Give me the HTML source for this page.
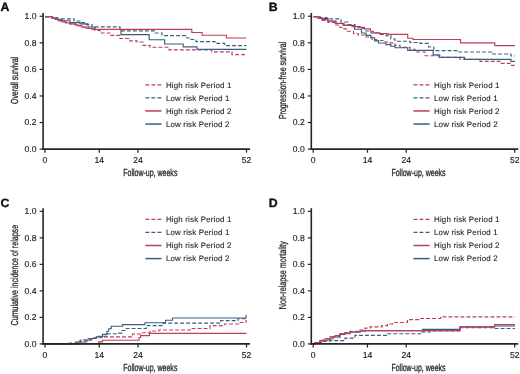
<!DOCTYPE html>
<html><head><meta charset="utf-8"><title>Figure</title>
<style>
html,body{margin:0;padding:0;background:#fff;width:520px;height:374px;overflow:hidden;}
svg{display:block;will-change:transform;filter:blur(0.35px);text-rendering:geometricPrecision;font-family:"Liberation Sans",sans-serif;}
</style></head><body>
<svg width="520" height="374" viewBox="0 0 520 374" font-family="Liberation Sans, sans-serif">
<rect width="520" height="374" fill="#fff"/>
<path d="M45.00 16.70 H52.50 V17.80 H58.00 V18.80 H74.00 V21.00 H80.00 V22.60 H86.00 V24.50 H92.00 V26.90 H120.00 V30.80 H155.00 V33.00 H162.00 V35.60 H187.00 V38.00 H191.00 V39.50 H196.00 V41.60 H215.00 V43.40 H224.70 V45.60 H246.50" fill="none" stroke="#3a5e82" stroke-width="1.15" stroke-dasharray="3.9 2.1"/>
<path d="M45.00 16.70 H52.00 V18.00 H56.00 V19.50 H60.00 V21.00 H65.00 V22.50 H70.00 V24.00 H76.00 V25.50 H82.00 V27.00 H88.00 V28.50 H95.00 V30.50 H100.00 V33.00 H110.00 V35.40 H120.00 V38.50 H130.00 V40.80 H137.00 V42.00 H143.00 V45.40 H150.00 V47.20 H169.00 V49.80 H211.70 V51.80 H232.00 V54.60 H246.50" fill="none" stroke="#bf3d5a" stroke-width="1.15" stroke-dasharray="3.9 2.1"/>
<path d="M45.00 16.70 H52.00 V17.80 H57.00 V19.50 H62.00 V20.70 H70.00 V22.60 H80.00 V23.80 H88.00 V27.00 H95.00 V29.50 H121.00 V34.60 H149.20 V39.70 H164.60 V44.00 H183.20 V46.80 H197.00 V49.40 H246.50" fill="none" stroke="#3a5e82" stroke-width="1.15"/>
<path d="M45.00 16.70 H52.00 V18.00 H55.00 V19.50 H58.00 V20.70 H62.00 V21.80 H66.00 V23.00 H70.00 V23.80 H75.00 V24.90 H78.00 V26.00 H82.00 V27.20 H86.00 V28.20 H92.00 V29.30 H191.80 V32.50 H202.20 V35.20 H226.40 V38.00 H246.50" fill="none" stroke="#bf3d5a" stroke-width="1.15"/>
<path d="M313.50 16.70 H320.00 V17.60 H327.00 V18.90 H341.00 V22.00 H348.00 V24.50 H355.00 V26.50 H360.00 V28.50 H366.00 V31.00 H371.00 V33.00 H380.00 V34.40 H386.00 V35.60 H390.80 V39.00 H395.00 V41.20 H410.00 V42.50 H420.00 V43.30 H428.50 V47.00 H433.80 V50.60 H458.00 V52.00 H493.00 V54.00 H511.00 V56.00 H515.00" fill="none" stroke="#3a5e82" stroke-width="1.15" stroke-dasharray="3.9 2.1"/>
<path d="M313.50 16.70 H318.00 V18.50 H322.00 V20.50 H328.00 V22.50 H335.00 V25.00 H340.00 V27.50 H343.00 V28.90 H347.40 V31.20 H353.50 V33.50 H358.00 V35.00 H365.00 V37.00 H372.00 V39.50 H376.60 V40.50 H385.00 V42.00 H389.00 V42.80 H395.00 V45.40 H400.00 V47.40 H410.00 V49.20 H415.00 V52.00 H425.00 V55.70 H440.00 V57.30 H460.00 V59.30 H480.00 V61.40 H500.00 V63.40 H510.00 V65.40 H515.00" fill="none" stroke="#bf3d5a" stroke-width="1.15" stroke-dasharray="3.9 2.1"/>
<path d="M313.50 16.70 H320.00 V18.50 H328.00 V21.00 H336.00 V23.50 H344.00 V25.50 H354.60 V29.20 H361.50 V33.00 H366.00 V35.40 H370.80 V37.70 H374.60 V40.80 H378.50 V43.00 H386.00 V44.60 H390.80 V46.20 H395.00 V47.70 H407.70 V50.30 H433.20 V54.90 H439.20 V57.30 H464.50 V59.30 H511.00 V61.40 H515.00" fill="none" stroke="#3a5e82" stroke-width="1.15"/>
<path d="M313.50 16.70 H318.00 V18.00 H322.00 V19.50 H327.40 V21.20 H335.00 V23.20 H342.80 V25.10 H352.00 V26.60 H358.00 V27.40 H364.30 V28.90 H370.50 V31.20 H373.50 V32.80 H379.70 V33.50 H388.00 V34.30 H407.70 V38.20 H413.00 V39.50 H460.50 V42.80 H494.80 V45.60 H515.00" fill="none" stroke="#bf3d5a" stroke-width="1.15"/>
<path d="M45.00 343.90 H98.75 V341.90 H102.50 V340.25 H139.00 V337.50 H140.60 V335.60 H149.40 V333.30 H246.50" fill="none" stroke="#bf3d5a" stroke-width="1.15"/>
<path d="M45.00 343.90 H76.00 V341.25 H80.60 V339.75 H86.25 V338.50 H92.50 V337.75 H101.25 V336.90 H132.50 V334.00 H140.60 V332.75 H150.00 V331.00 H158.75 V330.00 H191.25 V328.50 H210.00 V325.60 H224.40 V324.00 H238.75 V322.50 H246.00 V320.60 H246.50" fill="none" stroke="#bf3d5a" stroke-width="1.15" stroke-dasharray="3.9 2.1"/>
<path d="M45.00 343.90 H69.40 V343.10 H80.00 V341.00 H90.00 V338.50 H96.25 V336.25 H107.50 V333.75 H118.75 V333.10 H122.00 V330.50 H125.00 V328.50 H146.25 V325.60 H163.00 V323.10 H220.60 V320.60 H238.00 V318.75 H246.50" fill="none" stroke="#3a5e82" stroke-width="1.15" stroke-dasharray="3.9 2.1"/>
<path d="M45.00 343.90 H77.50 V342.00 H86.00 V340.00 H92.00 V338.50 H96.25 V336.90 H102.50 V334.40 H106.90 V331.25 H108.75 V328.75 H111.25 V326.25 H122.50 V324.60 H145.00 V322.75 H165.60 V320.25 H172.50 V318.00 H246.00 V315.60 H246.50" fill="none" stroke="#3a5e82" stroke-width="1.15"/>
<path d="M313.50 343.90 H315.00 V342.50 H320.00 V341.25 H330.00 V340.60 H345.00 V338.10 H355.00 V335.40 H387.50 V333.75 H421.25 V331.90 H430.00 V331.00 H460.00 V327.75 H494.60 V328.50 H515.00" fill="none" stroke="#3a5e82" stroke-width="1.15" stroke-dasharray="3.9 2.1"/>
<path d="M313.50 343.90 H315.00 V342.50 H322.00 V340.00 H330.00 V337.00 H340.00 V333.75 H345.00 V332.50 H350.00 V331.25 H360.00 V330.00 H365.00 V328.10 H370.00 V326.90 H381.90 V325.60 H387.50 V324.00 H392.50 V322.50 H407.50 V319.60 H418.75 V318.50 H440.60 V316.90 H515.00" fill="none" stroke="#bf3d5a" stroke-width="1.15" stroke-dasharray="3.9 2.1"/>
<path d="M313.50 343.90 H315.00 V342.50 H320.00 V341.00 H327.00 V339.00 H333.00 V337.00 H340.00 V334.50 H345.00 V333.00 H350.00 V332.00 H360.00 V331.00 H365.00 V330.60 H422.50 V329.40 H460.00 V326.90 H494.60 V326.00 H515.00" fill="none" stroke="#3a5e82" stroke-width="1.15"/>
<path d="M313.50 343.90 H315.00 V342.50 H320.00 V340.60 H325.00 V338.75 H330.00 V336.90 H335.00 V335.60 H340.00 V333.75 H350.00 V332.25 H360.00 V331.25 H365.00 V330.60 H460.00 V326.90 H494.60 V324.60 H515.00" fill="none" stroke="#bf3d5a" stroke-width="1.15"/>
<text x="0.45" y="10.80" font-size="12" font-weight="bold" fill="#111" stroke="#111" stroke-width="0.35" textLength="8.9" lengthAdjust="spacingAndGlyphs">A</text>
<line x1="43.10" y1="13.00" x2="43.10" y2="149.90" stroke="#262626" stroke-width="1.60"/>
<line x1="42.30" y1="149.10" x2="250.00" y2="149.10" stroke="#262626" stroke-width="1.60"/>
<line x1="39.60" y1="16.25" x2="43.10" y2="16.25" stroke="#262626" stroke-width="1.2"/>
<text x="36.50" y="19.15" font-size="8.60" text-anchor="end" fill="#1e1e1e" stroke="#1e1e1e" stroke-width="0.15">1.0</text>
<line x1="39.60" y1="42.82" x2="43.10" y2="42.82" stroke="#262626" stroke-width="1.2"/>
<text x="36.50" y="45.72" font-size="8.60" text-anchor="end" fill="#1e1e1e" stroke="#1e1e1e" stroke-width="0.15">0.8</text>
<line x1="39.60" y1="69.39" x2="43.10" y2="69.39" stroke="#262626" stroke-width="1.2"/>
<text x="36.50" y="72.29" font-size="8.60" text-anchor="end" fill="#1e1e1e" stroke="#1e1e1e" stroke-width="0.15">0.6</text>
<line x1="39.60" y1="95.96" x2="43.10" y2="95.96" stroke="#262626" stroke-width="1.2"/>
<text x="36.50" y="98.86" font-size="8.60" text-anchor="end" fill="#1e1e1e" stroke="#1e1e1e" stroke-width="0.15">0.4</text>
<line x1="39.60" y1="122.53" x2="43.10" y2="122.53" stroke="#262626" stroke-width="1.2"/>
<text x="36.50" y="125.43" font-size="8.60" text-anchor="end" fill="#1e1e1e" stroke="#1e1e1e" stroke-width="0.15">0.2</text>
<line x1="39.60" y1="149.10" x2="43.10" y2="149.10" stroke="#262626" stroke-width="1.2"/>
<text x="36.50" y="152.00" font-size="8.60" text-anchor="end" fill="#1e1e1e" stroke="#1e1e1e" stroke-width="0.15">0.0</text>
<line x1="45.00" y1="149.10" x2="45.00" y2="152.70" stroke="#262626" stroke-width="1.25"/>
<text x="45.00" y="163.40" font-size="8.60" text-anchor="middle" fill="#1e1e1e" stroke="#1e1e1e" stroke-width="0.15">0</text>
<line x1="99.25" y1="149.10" x2="99.25" y2="152.70" stroke="#262626" stroke-width="1.25"/>
<text x="99.25" y="163.40" font-size="8.60" text-anchor="middle" fill="#1e1e1e" stroke="#1e1e1e" stroke-width="0.15">14</text>
<line x1="138.00" y1="149.10" x2="138.00" y2="152.70" stroke="#262626" stroke-width="1.25"/>
<text x="138.00" y="163.40" font-size="8.60" text-anchor="middle" fill="#1e1e1e" stroke="#1e1e1e" stroke-width="0.15">24</text>
<line x1="246.50" y1="149.10" x2="246.50" y2="152.70" stroke="#262626" stroke-width="1.25"/>
<text x="246.50" y="163.40" font-size="8.60" text-anchor="middle" fill="#1e1e1e" stroke="#1e1e1e" stroke-width="0.15">52</text>
<text x="123.20" y="175.95" font-size="10.20" fill="#1e1e1e" stroke="#1e1e1e" stroke-width="0.28" textLength="54.2" lengthAdjust="spacingAndGlyphs">Follow-up, weeks</text>
<text transform="translate(17.90 80.40) rotate(-90)" x="0" y="0" font-size="10.20" fill="#1e1e1e" stroke="#1e1e1e" stroke-width="0.28" text-anchor="middle" textLength="47.1" lengthAdjust="spacingAndGlyphs">Overall survival</text>
<text x="268.65" y="10.80" font-size="12" font-weight="bold" fill="#111" stroke="#111" stroke-width="0.35" textLength="8.9" lengthAdjust="spacingAndGlyphs">B</text>
<line x1="311.30" y1="13.00" x2="311.30" y2="149.90" stroke="#262626" stroke-width="1.60"/>
<line x1="310.50" y1="149.10" x2="518.20" y2="149.10" stroke="#262626" stroke-width="1.60"/>
<line x1="307.80" y1="16.25" x2="311.30" y2="16.25" stroke="#262626" stroke-width="1.2"/>
<text x="304.70" y="19.15" font-size="8.60" text-anchor="end" fill="#1e1e1e" stroke="#1e1e1e" stroke-width="0.15">1.0</text>
<line x1="307.80" y1="42.82" x2="311.30" y2="42.82" stroke="#262626" stroke-width="1.2"/>
<text x="304.70" y="45.72" font-size="8.60" text-anchor="end" fill="#1e1e1e" stroke="#1e1e1e" stroke-width="0.15">0.8</text>
<line x1="307.80" y1="69.39" x2="311.30" y2="69.39" stroke="#262626" stroke-width="1.2"/>
<text x="304.70" y="72.29" font-size="8.60" text-anchor="end" fill="#1e1e1e" stroke="#1e1e1e" stroke-width="0.15">0.6</text>
<line x1="307.80" y1="95.96" x2="311.30" y2="95.96" stroke="#262626" stroke-width="1.2"/>
<text x="304.70" y="98.86" font-size="8.60" text-anchor="end" fill="#1e1e1e" stroke="#1e1e1e" stroke-width="0.15">0.4</text>
<line x1="307.80" y1="122.53" x2="311.30" y2="122.53" stroke="#262626" stroke-width="1.2"/>
<text x="304.70" y="125.43" font-size="8.60" text-anchor="end" fill="#1e1e1e" stroke="#1e1e1e" stroke-width="0.15">0.2</text>
<line x1="307.80" y1="149.10" x2="311.30" y2="149.10" stroke="#262626" stroke-width="1.2"/>
<text x="304.70" y="152.00" font-size="8.60" text-anchor="end" fill="#1e1e1e" stroke="#1e1e1e" stroke-width="0.15">0.0</text>
<line x1="313.20" y1="149.10" x2="313.20" y2="152.70" stroke="#262626" stroke-width="1.25"/>
<text x="313.20" y="163.40" font-size="8.60" text-anchor="middle" fill="#1e1e1e" stroke="#1e1e1e" stroke-width="0.15">0</text>
<line x1="367.45" y1="149.10" x2="367.45" y2="152.70" stroke="#262626" stroke-width="1.25"/>
<text x="367.45" y="163.40" font-size="8.60" text-anchor="middle" fill="#1e1e1e" stroke="#1e1e1e" stroke-width="0.15">14</text>
<line x1="406.20" y1="149.10" x2="406.20" y2="152.70" stroke="#262626" stroke-width="1.25"/>
<text x="406.20" y="163.40" font-size="8.60" text-anchor="middle" fill="#1e1e1e" stroke="#1e1e1e" stroke-width="0.15">24</text>
<line x1="514.70" y1="149.10" x2="514.70" y2="152.70" stroke="#262626" stroke-width="1.25"/>
<text x="514.70" y="163.40" font-size="8.60" text-anchor="middle" fill="#1e1e1e" stroke="#1e1e1e" stroke-width="0.15">52</text>
<text x="391.40" y="175.95" font-size="10.20" fill="#1e1e1e" stroke="#1e1e1e" stroke-width="0.28" textLength="54.2" lengthAdjust="spacingAndGlyphs">Follow-up, weeks</text>
<text transform="translate(286.10 80.40) rotate(-90)" x="0" y="0" font-size="10.20" fill="#1e1e1e" stroke="#1e1e1e" stroke-width="0.28" text-anchor="middle" textLength="77.2" lengthAdjust="spacingAndGlyphs">Progression-free survival</text>
<text x="0.45" y="206.50" font-size="12" font-weight="bold" fill="#111" stroke="#111" stroke-width="0.35" textLength="8.9" lengthAdjust="spacingAndGlyphs">C</text>
<line x1="43.10" y1="208.20" x2="43.10" y2="344.70" stroke="#262626" stroke-width="1.60"/>
<line x1="42.30" y1="343.90" x2="250.00" y2="343.90" stroke="#262626" stroke-width="1.60"/>
<line x1="39.60" y1="211.35" x2="43.10" y2="211.35" stroke="#262626" stroke-width="1.2"/>
<text x="36.50" y="214.25" font-size="8.60" text-anchor="end" fill="#1e1e1e" stroke="#1e1e1e" stroke-width="0.15">1.0</text>
<line x1="39.60" y1="237.86" x2="43.10" y2="237.86" stroke="#262626" stroke-width="1.2"/>
<text x="36.50" y="240.76" font-size="8.60" text-anchor="end" fill="#1e1e1e" stroke="#1e1e1e" stroke-width="0.15">0.8</text>
<line x1="39.60" y1="264.37" x2="43.10" y2="264.37" stroke="#262626" stroke-width="1.2"/>
<text x="36.50" y="267.27" font-size="8.60" text-anchor="end" fill="#1e1e1e" stroke="#1e1e1e" stroke-width="0.15">0.6</text>
<line x1="39.60" y1="290.88" x2="43.10" y2="290.88" stroke="#262626" stroke-width="1.2"/>
<text x="36.50" y="293.78" font-size="8.60" text-anchor="end" fill="#1e1e1e" stroke="#1e1e1e" stroke-width="0.15">0.4</text>
<line x1="39.60" y1="317.39" x2="43.10" y2="317.39" stroke="#262626" stroke-width="1.2"/>
<text x="36.50" y="320.29" font-size="8.60" text-anchor="end" fill="#1e1e1e" stroke="#1e1e1e" stroke-width="0.15">0.2</text>
<line x1="39.60" y1="343.90" x2="43.10" y2="343.90" stroke="#262626" stroke-width="1.2"/>
<text x="36.50" y="346.80" font-size="8.60" text-anchor="end" fill="#1e1e1e" stroke="#1e1e1e" stroke-width="0.15">0.0</text>
<line x1="45.00" y1="343.90" x2="45.00" y2="347.50" stroke="#262626" stroke-width="1.25"/>
<text x="45.00" y="358.20" font-size="8.60" text-anchor="middle" fill="#1e1e1e" stroke="#1e1e1e" stroke-width="0.15">0</text>
<line x1="99.25" y1="343.90" x2="99.25" y2="347.50" stroke="#262626" stroke-width="1.25"/>
<text x="99.25" y="358.20" font-size="8.60" text-anchor="middle" fill="#1e1e1e" stroke="#1e1e1e" stroke-width="0.15">14</text>
<line x1="138.00" y1="343.90" x2="138.00" y2="347.50" stroke="#262626" stroke-width="1.25"/>
<text x="138.00" y="358.20" font-size="8.60" text-anchor="middle" fill="#1e1e1e" stroke="#1e1e1e" stroke-width="0.15">24</text>
<line x1="246.50" y1="343.90" x2="246.50" y2="347.50" stroke="#262626" stroke-width="1.25"/>
<text x="246.50" y="358.20" font-size="8.60" text-anchor="middle" fill="#1e1e1e" stroke="#1e1e1e" stroke-width="0.15">52</text>
<text x="123.20" y="370.75" font-size="10.20" fill="#1e1e1e" stroke="#1e1e1e" stroke-width="0.28" textLength="54.2" lengthAdjust="spacingAndGlyphs">Follow-up, weeks</text>
<text transform="translate(17.90 275.15) rotate(-90)" x="0" y="0" font-size="10.20" fill="#1e1e1e" stroke="#1e1e1e" stroke-width="0.28" text-anchor="middle" textLength="100.5" lengthAdjust="spacingAndGlyphs">Cumulative incidence of relapse</text>
<text x="268.65" y="206.50" font-size="12" font-weight="bold" fill="#111" stroke="#111" stroke-width="0.35" textLength="8.9" lengthAdjust="spacingAndGlyphs">D</text>
<line x1="311.30" y1="208.20" x2="311.30" y2="344.70" stroke="#262626" stroke-width="1.60"/>
<line x1="310.50" y1="343.90" x2="518.20" y2="343.90" stroke="#262626" stroke-width="1.60"/>
<line x1="307.80" y1="211.35" x2="311.30" y2="211.35" stroke="#262626" stroke-width="1.2"/>
<text x="304.70" y="214.25" font-size="8.60" text-anchor="end" fill="#1e1e1e" stroke="#1e1e1e" stroke-width="0.15">1.0</text>
<line x1="307.80" y1="237.86" x2="311.30" y2="237.86" stroke="#262626" stroke-width="1.2"/>
<text x="304.70" y="240.76" font-size="8.60" text-anchor="end" fill="#1e1e1e" stroke="#1e1e1e" stroke-width="0.15">0.8</text>
<line x1="307.80" y1="264.37" x2="311.30" y2="264.37" stroke="#262626" stroke-width="1.2"/>
<text x="304.70" y="267.27" font-size="8.60" text-anchor="end" fill="#1e1e1e" stroke="#1e1e1e" stroke-width="0.15">0.6</text>
<line x1="307.80" y1="290.88" x2="311.30" y2="290.88" stroke="#262626" stroke-width="1.2"/>
<text x="304.70" y="293.78" font-size="8.60" text-anchor="end" fill="#1e1e1e" stroke="#1e1e1e" stroke-width="0.15">0.4</text>
<line x1="307.80" y1="317.39" x2="311.30" y2="317.39" stroke="#262626" stroke-width="1.2"/>
<text x="304.70" y="320.29" font-size="8.60" text-anchor="end" fill="#1e1e1e" stroke="#1e1e1e" stroke-width="0.15">0.2</text>
<line x1="307.80" y1="343.90" x2="311.30" y2="343.90" stroke="#262626" stroke-width="1.2"/>
<text x="304.70" y="346.80" font-size="8.60" text-anchor="end" fill="#1e1e1e" stroke="#1e1e1e" stroke-width="0.15">0.0</text>
<line x1="313.20" y1="343.90" x2="313.20" y2="347.50" stroke="#262626" stroke-width="1.25"/>
<text x="313.20" y="358.20" font-size="8.60" text-anchor="middle" fill="#1e1e1e" stroke="#1e1e1e" stroke-width="0.15">0</text>
<line x1="367.45" y1="343.90" x2="367.45" y2="347.50" stroke="#262626" stroke-width="1.25"/>
<text x="367.45" y="358.20" font-size="8.60" text-anchor="middle" fill="#1e1e1e" stroke="#1e1e1e" stroke-width="0.15">14</text>
<line x1="406.20" y1="343.90" x2="406.20" y2="347.50" stroke="#262626" stroke-width="1.25"/>
<text x="406.20" y="358.20" font-size="8.60" text-anchor="middle" fill="#1e1e1e" stroke="#1e1e1e" stroke-width="0.15">24</text>
<line x1="514.70" y1="343.90" x2="514.70" y2="347.50" stroke="#262626" stroke-width="1.25"/>
<text x="514.70" y="358.20" font-size="8.60" text-anchor="middle" fill="#1e1e1e" stroke="#1e1e1e" stroke-width="0.15">52</text>
<text x="391.40" y="370.75" font-size="10.20" fill="#1e1e1e" stroke="#1e1e1e" stroke-width="0.28" textLength="54.2" lengthAdjust="spacingAndGlyphs">Follow-up, weeks</text>
<text transform="translate(286.10 275.15) rotate(-90)" x="0" y="0" font-size="10.20" fill="#1e1e1e" stroke="#1e1e1e" stroke-width="0.28" text-anchor="middle" textLength="68.1" lengthAdjust="spacingAndGlyphs">Non-relapse mortality</text>
<line x1="145.40" y1="84.75" x2="161.50" y2="84.75" stroke="#bf3d5a" stroke-width="1.25" stroke-dasharray="3.9 2.1"/>
<text x="165.90" y="87.60" font-size="7.95" letter-spacing="0.17" fill="#1e1e1e" stroke="#1e1e1e" stroke-width="0.1">High risk Period 1</text>
<line x1="145.40" y1="97.85" x2="161.50" y2="97.85" stroke="#3a5e82" stroke-width="1.25" stroke-dasharray="3.9 2.1"/>
<text x="165.90" y="100.70" font-size="7.95" letter-spacing="0.17" fill="#1e1e1e" stroke="#1e1e1e" stroke-width="0.1">Low risk Period 1</text>
<line x1="145.40" y1="110.95" x2="161.50" y2="110.95" stroke="#bf3d5a" stroke-width="1.50"/>
<text x="165.90" y="113.80" font-size="7.95" letter-spacing="0.17" fill="#1e1e1e" stroke="#1e1e1e" stroke-width="0.1">High risk Period 2</text>
<line x1="145.40" y1="124.05" x2="161.50" y2="124.05" stroke="#3a5e82" stroke-width="1.50"/>
<text x="165.90" y="126.90" font-size="7.95" letter-spacing="0.17" fill="#1e1e1e" stroke="#1e1e1e" stroke-width="0.1">Low risk Period 2</text>
<line x1="413.50" y1="84.75" x2="429.60" y2="84.75" stroke="#bf3d5a" stroke-width="1.25" stroke-dasharray="3.9 2.1"/>
<text x="434.00" y="87.60" font-size="7.95" letter-spacing="0.17" fill="#1e1e1e" stroke="#1e1e1e" stroke-width="0.1">High risk Period 1</text>
<line x1="413.50" y1="97.85" x2="429.60" y2="97.85" stroke="#3a5e82" stroke-width="1.25" stroke-dasharray="3.9 2.1"/>
<text x="434.00" y="100.70" font-size="7.95" letter-spacing="0.17" fill="#1e1e1e" stroke="#1e1e1e" stroke-width="0.1">Low risk Period 1</text>
<line x1="413.50" y1="110.95" x2="429.60" y2="110.95" stroke="#bf3d5a" stroke-width="1.50"/>
<text x="434.00" y="113.80" font-size="7.95" letter-spacing="0.17" fill="#1e1e1e" stroke="#1e1e1e" stroke-width="0.1">High risk Period 2</text>
<line x1="413.50" y1="124.05" x2="429.60" y2="124.05" stroke="#3a5e82" stroke-width="1.50"/>
<text x="434.00" y="126.90" font-size="7.95" letter-spacing="0.17" fill="#1e1e1e" stroke="#1e1e1e" stroke-width="0.1">Low risk Period 2</text>
<line x1="145.40" y1="219.30" x2="161.50" y2="219.30" stroke="#bf3d5a" stroke-width="1.25" stroke-dasharray="3.9 2.1"/>
<text x="165.90" y="222.15" font-size="7.95" letter-spacing="0.17" fill="#1e1e1e" stroke="#1e1e1e" stroke-width="0.1">High risk Period 1</text>
<line x1="145.40" y1="232.40" x2="161.50" y2="232.40" stroke="#3a5e82" stroke-width="1.25" stroke-dasharray="3.9 2.1"/>
<text x="165.90" y="235.25" font-size="7.95" letter-spacing="0.17" fill="#1e1e1e" stroke="#1e1e1e" stroke-width="0.1">Low risk Period 1</text>
<line x1="145.40" y1="245.50" x2="161.50" y2="245.50" stroke="#bf3d5a" stroke-width="1.50"/>
<text x="165.90" y="248.35" font-size="7.95" letter-spacing="0.17" fill="#1e1e1e" stroke="#1e1e1e" stroke-width="0.1">High risk Period 2</text>
<line x1="145.40" y1="258.60" x2="161.50" y2="258.60" stroke="#3a5e82" stroke-width="1.50"/>
<text x="165.90" y="261.45" font-size="7.95" letter-spacing="0.17" fill="#1e1e1e" stroke="#1e1e1e" stroke-width="0.1">Low risk Period 2</text>
<line x1="413.50" y1="219.30" x2="429.60" y2="219.30" stroke="#bf3d5a" stroke-width="1.25" stroke-dasharray="3.9 2.1"/>
<text x="434.00" y="222.15" font-size="7.95" letter-spacing="0.17" fill="#1e1e1e" stroke="#1e1e1e" stroke-width="0.1">High risk Period 1</text>
<line x1="413.50" y1="232.40" x2="429.60" y2="232.40" stroke="#3a5e82" stroke-width="1.25" stroke-dasharray="3.9 2.1"/>
<text x="434.00" y="235.25" font-size="7.95" letter-spacing="0.17" fill="#1e1e1e" stroke="#1e1e1e" stroke-width="0.1">Low risk Period 1</text>
<line x1="413.50" y1="245.50" x2="429.60" y2="245.50" stroke="#bf3d5a" stroke-width="1.50"/>
<text x="434.00" y="248.35" font-size="7.95" letter-spacing="0.17" fill="#1e1e1e" stroke="#1e1e1e" stroke-width="0.1">High risk Period 2</text>
<line x1="413.50" y1="258.60" x2="429.60" y2="258.60" stroke="#3a5e82" stroke-width="1.50"/>
<text x="434.00" y="261.45" font-size="7.95" letter-spacing="0.17" fill="#1e1e1e" stroke="#1e1e1e" stroke-width="0.1">Low risk Period 2</text>
</svg>
</body></html>
